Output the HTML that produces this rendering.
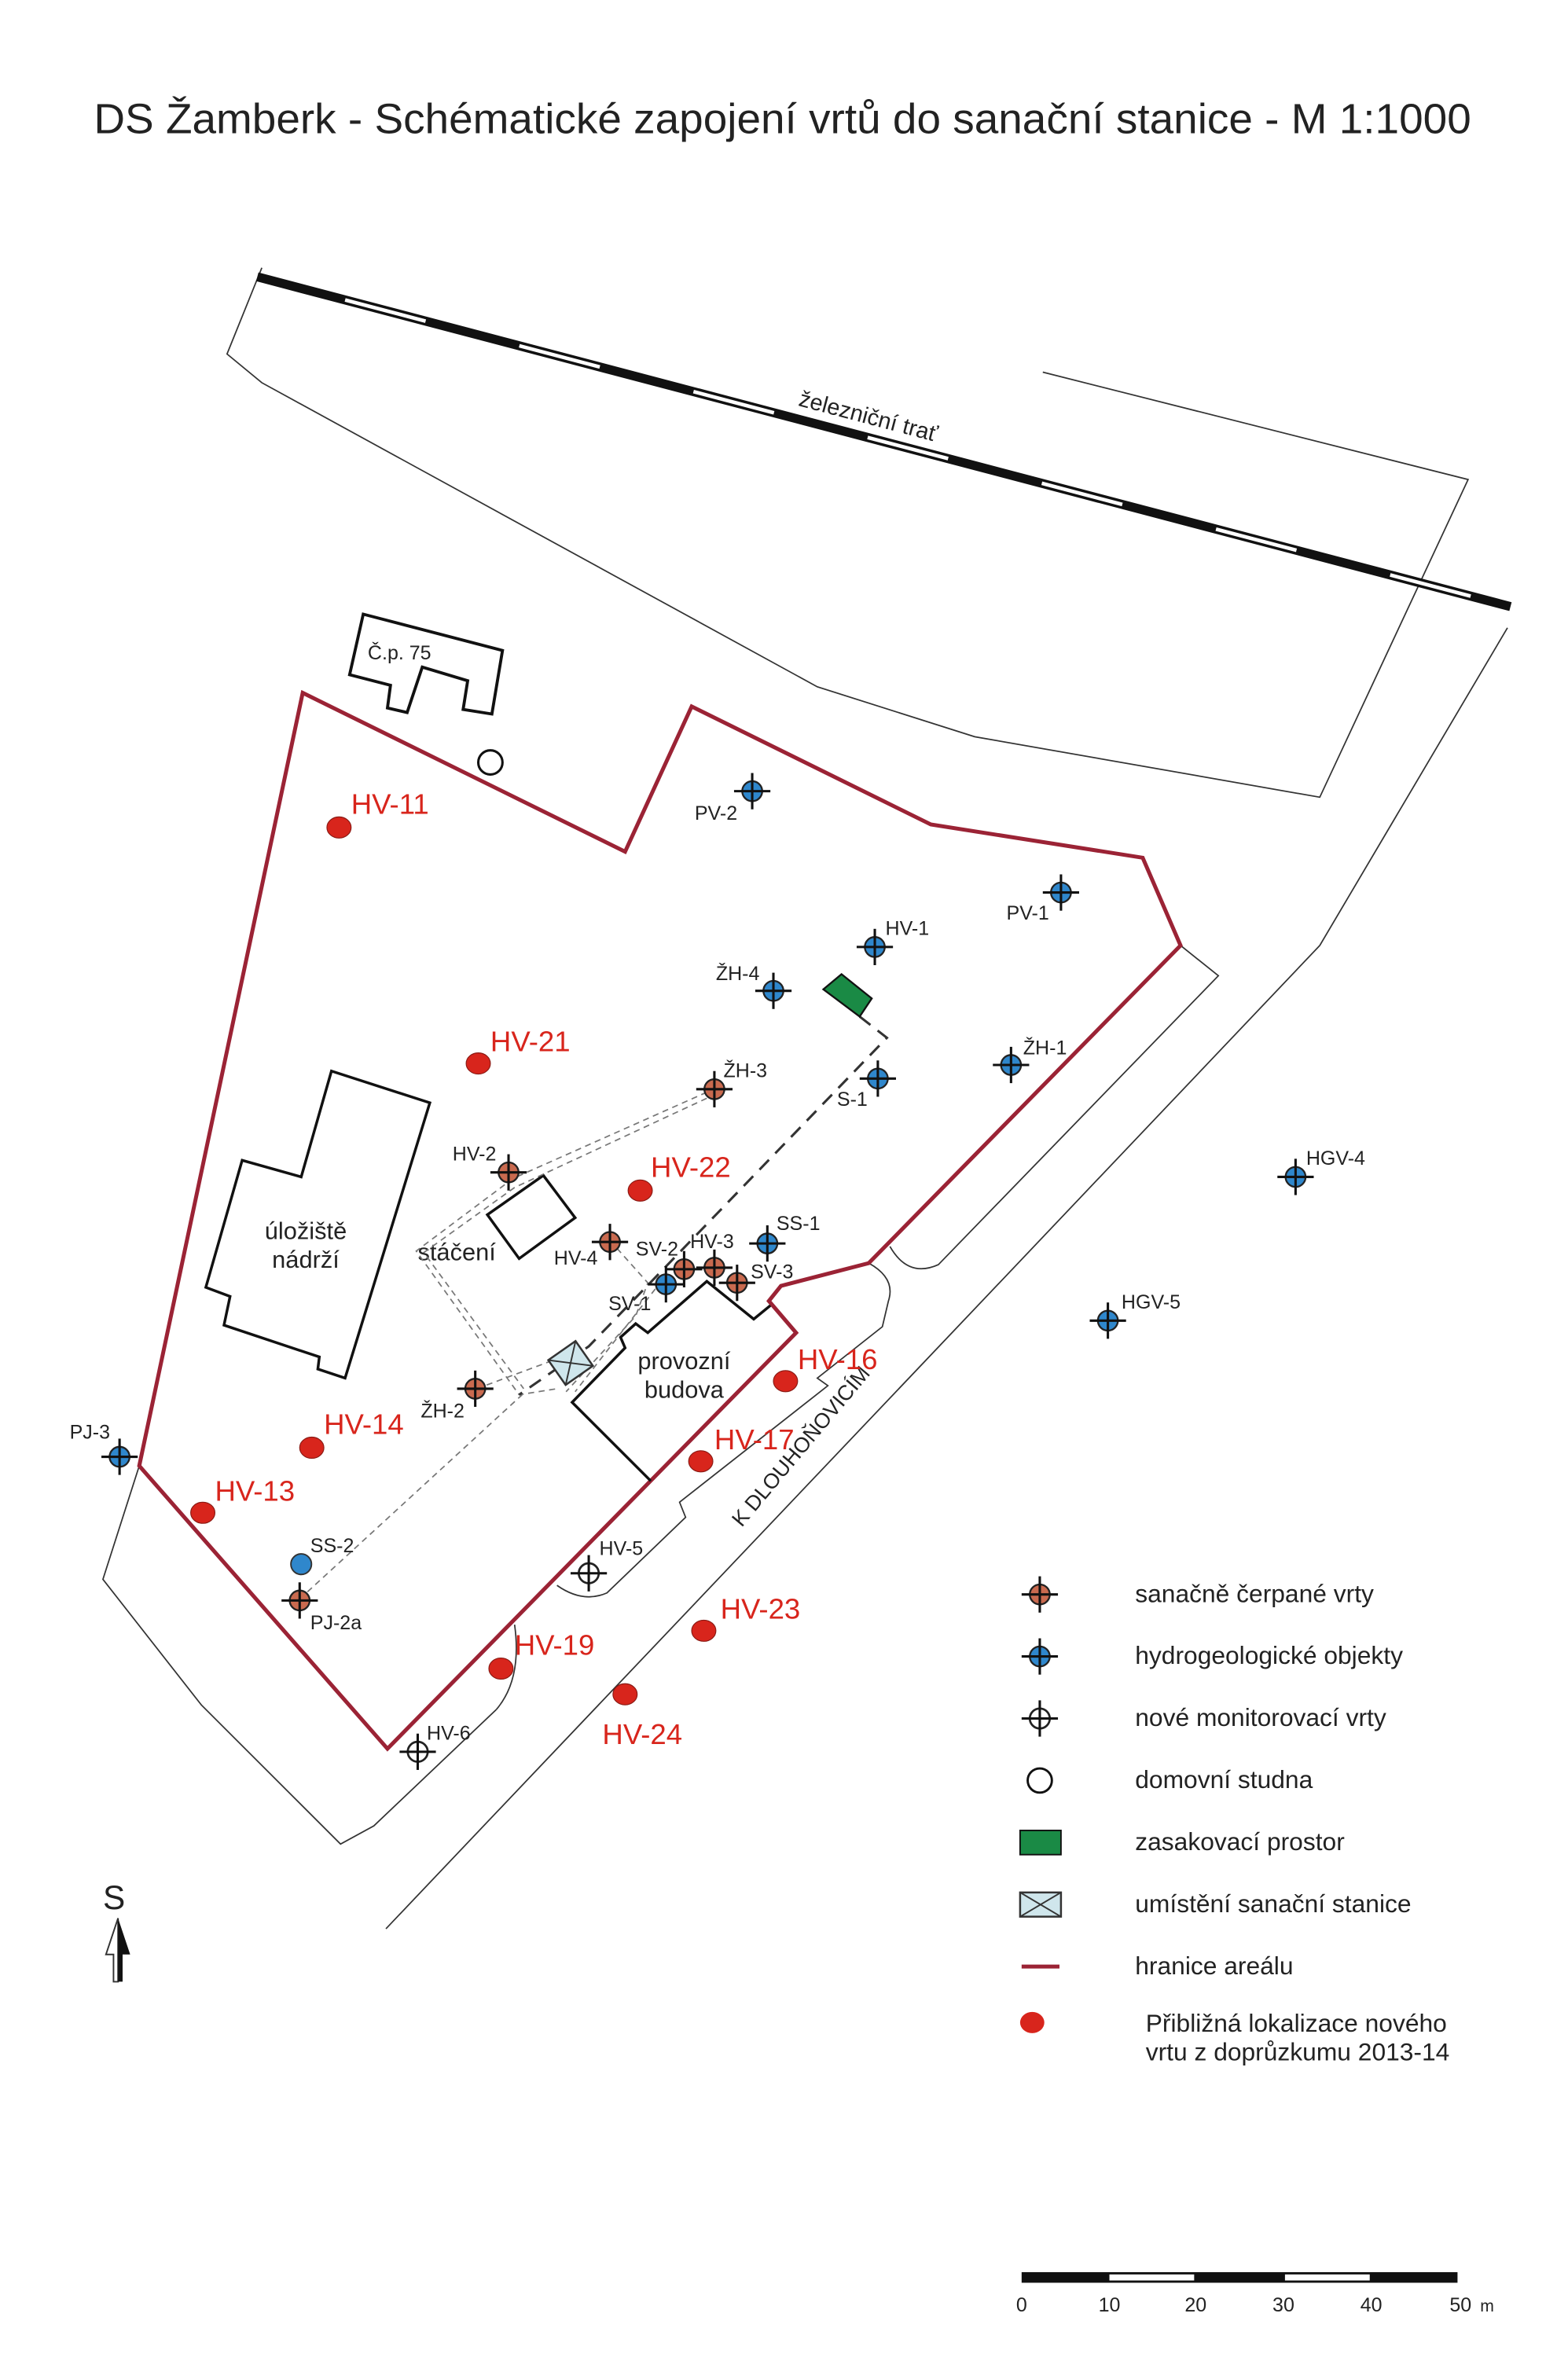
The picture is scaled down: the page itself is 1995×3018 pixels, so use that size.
<!DOCTYPE html>
<html><head><meta charset="utf-8"><style>
html,body{margin:0;padding:0;background:#fff;}
svg{display:block;}
text{font-family:"Liberation Sans",sans-serif;}
</style></head><body>
<svg width="1995" height="3018" viewBox="0 0 1036 1568" preserveAspectRatio="none" xmlns="http://www.w3.org/2000/svg">
<defs>
<g id="cr"><circle r="6.6" fill="#c96a4f" stroke="#222" stroke-width="1.2"/><line x1="-12" y1="0" x2="12" y2="0" stroke="#111" stroke-width="1.6"/><line x1="0" y1="-12" x2="0" y2="12" stroke="#111" stroke-width="1.6"/></g>
<g id="cb"><circle r="6.6" fill="#2f87cc" stroke="#222" stroke-width="1.2"/><line x1="-12" y1="0" x2="12" y2="0" stroke="#111" stroke-width="1.6"/><line x1="0" y1="-12" x2="0" y2="12" stroke="#111" stroke-width="1.6"/></g>
<g id="ck"><circle r="6.6" fill="#fff" stroke="#222" stroke-width="1.4"/><line x1="-12" y1="0" x2="12" y2="0" stroke="#111" stroke-width="1.6"/><line x1="0" y1="-12" x2="0" y2="12" stroke="#111" stroke-width="1.6"/></g>
</defs>
<rect width="1036" height="1568" fill="#fff"/>
<text x="62" y="88" font-size="28" textLength="910" lengthAdjust="spacingAndGlyphs" fill="#222">DS Žamberk - Schématické zapojení vrtů do sanační stanice - M 1:1000</text>

<!-- railway area outlines -->
<g fill="none" stroke="#333" stroke-width="0.9">
<polyline points="173,177 150,234 173,253 540,454 644,487 872,527 970,317 689,246"/>
<polyline points="996,415 872,625 255,1275"/>
<path d="M780,625 L805,645 L620,836 Q600,845 588,824"/>
<path d="M574,835 Q592,845 587,860 L583,877 L540,911 L547,916 L449,993 L453,1003 L401,1053 Q385,1060 368,1048"/>
<polyline points="92,969 68,1044 133,1127 225,1219 247,1207 328,1130"/>
<path d="M328,1130 Q345,1110 340,1074"/>
</g>
<!-- railway -->
<line x1="170" y1="183" x2="998" y2="401" stroke="#111" stroke-width="6"/>
<line x1="170" y1="183" x2="998" y2="401" stroke="#fff" stroke-width="2.4" stroke-dasharray="0 60 55 4" />
<text transform="translate(527,268) rotate(14.8)" font-size="15" fill="#222">železniční trať</text>

<!-- Č.p. 75 -->
<polygon points="240,406 332,430 325,472 306,469 309,450 279,441 269,471 256,468 258,453 231,446" fill="none" stroke="#111" stroke-width="2"/>
<text x="243" y="436" font-size="13" fill="#222">Č.p. 75</text>
<circle cx="324" cy="504" r="8" fill="#fff" stroke="#111" stroke-width="1.6"/>

<!-- boundary -->
<polygon points="200,458 413,563 457,467 615,545 755,567 780,625 574,835 516,850 508,860 526,881 256,1156 92,969" fill="none" stroke="#9b2335" stroke-width="2.6"/>

<!-- buildings -->
<polygon points="219,708 284,729 228,911 210,905 211,897 148,876 152,857 136,851 160,767 199,778" fill="none" stroke="#111" stroke-width="1.8"/>
<text x="202" y="819" font-size="16" text-anchor="middle" fill="#222">úložiště</text>
<text x="202" y="838" font-size="16" text-anchor="middle" fill="#222">nádrží</text>
<polygon points="322,803 359,777 380,805 343,832" fill="none" stroke="#111" stroke-width="1.8"/>
<text x="276" y="833" font-size="16" fill="#222">stáčení</text>
<polyline points="430,979 378,927 413,891 410,884 420,875 428,881 467,847 498,872 509,863" fill="none" stroke="#111" stroke-width="1.8"/>
<text x="452" y="905" font-size="16" text-anchor="middle" fill="#222">provozní</text>
<text x="452" y="924" font-size="16" text-anchor="middle" fill="#222">budova</text>
<text transform="translate(490,1010) rotate(-50)" font-size="14" fill="#222">K DLOUHOŇOVICÍM</text>

<!-- dashed lines -->
<g fill="none" stroke="#777" stroke-width="0.9" stroke-dasharray="4 3">
<polyline points="467,722 339,779 275,827 343,922 368,918"/>
<polyline points="467,726 340,785 280,828 346,918"/>
<polyline points="198,1057 345,922"/>
<polyline points="315,918 366,899"/>
<polyline points="403,820 428,848 420,870 374,920"/>
<polyline points="433,852 380,920"/>
</g>
<polyline points="568,672 586,686 389,890 343,922" fill="none" stroke="#333" stroke-width="1.6" stroke-dasharray="9 6"/>
<!-- green -->
<polygon points="544,654 556,644 576,660 568,672" fill="#1a8a45" stroke="#111" stroke-width="1.2"/>
<!-- station -->
<g transform="translate(377,901) rotate(-35)"><rect x="-11" y="-10" width="22" height="20" fill="#cfe6ec" stroke="#333" stroke-width="1.3"/><line x1="-11" y1="-10" x2="11" y2="10" stroke="#333"/><line x1="-11" y1="10" x2="11" y2="-10" stroke="#333"/></g>

<!-- symbols -->
<use href="#cr" x="472" y="720"/><use href="#cr" x="336" y="775"/><use href="#cr" x="403" y="821"/>
<use href="#cr" x="452" y="839"/><use href="#cr" x="472" y="838"/><use href="#cr" x="487" y="848"/>
<use href="#cr" x="314" y="918"/><use href="#cr" x="198" y="1058"/>
<use href="#cb" x="497" y="523"/><use href="#cb" x="578" y="626"/><use href="#cb" x="511" y="655"/>
<use href="#cb" x="701" y="590"/><use href="#cb" x="668" y="704"/><use href="#cb" x="580" y="713"/>
<use href="#cb" x="507" y="822"/><use href="#cb" x="440" y="849"/><use href="#cb" x="856" y="778"/>
<use href="#cb" x="732" y="873"/><use href="#cb" x="79" y="963"/>
<use href="#ck" x="389" y="1040"/><use href="#ck" x="276" y="1158"/>
<circle cx="199" cy="1034" r="6.8" fill="#2f87cc" stroke="#333" stroke-width="1"/>

<g font-size="13" fill="#222">
<text x="459" y="542">PV-2</text><text x="585" y="618">HV-1</text><text x="473" y="648">ŽH-4</text>
<text x="665" y="608">PV-1</text><text x="676" y="697">ŽH-1</text><text x="478" y="712">ŽH-3</text>
<text x="553" y="731">S-1</text><text x="299" y="767">HV-2</text><text x="366" y="836">HV-4</text>
<text x="420" y="830">SV-2</text><text x="456" y="825">HV-3</text><text x="513" y="813">SS-1</text>
<text x="496" y="845">SV-3</text><text x="402" y="866">SV-1</text><text x="278" y="937">ŽH-2</text>
<text x="46" y="951">PJ-3</text><text x="205" y="1026">SS-2</text><text x="205" y="1077">PJ-2a</text>
<text x="396" y="1028">HV-5</text><text x="282" y="1150">HV-6</text><text x="863" y="770">HGV-4</text>
<text x="741" y="865">HGV-5</text>
</g>

<!-- red dots -->
<g fill="#d8251c" stroke="#8a1a14" stroke-width="0.6">
<ellipse cx="224" cy="547" rx="8" ry="7"/><ellipse cx="316" cy="703" rx="8" ry="7"/><ellipse cx="423" cy="787" rx="8" ry="7"/>
<ellipse cx="519" cy="913" rx="8" ry="7"/><ellipse cx="463" cy="966" rx="8" ry="7"/><ellipse cx="206" cy="957" rx="8" ry="7"/>
<ellipse cx="134" cy="1000" rx="8" ry="7"/><ellipse cx="331" cy="1103" rx="8" ry="7"/><ellipse cx="465" cy="1078" rx="8" ry="7"/>
<ellipse cx="413" cy="1120" rx="8" ry="7"/>
</g>
<g font-size="19" fill="#d8251c">
<text x="232" y="538">HV-11</text><text x="324" y="695">HV-21</text><text x="430" y="778">HV-22</text>
<text x="527" y="905">HV-16</text><text x="472" y="958">HV-17</text><text x="214" y="948">HV-14</text>
<text x="142" y="992">HV-13</text><text x="340" y="1094">HV-19</text><text x="476" y="1070">HV-23</text>
<text x="398" y="1153">HV-24</text>
</g>

<!-- legend -->
<use href="#cr" x="687" y="1054"/><use href="#cb" x="687" y="1095"/><use href="#ck" x="687" y="1136"/>
<circle cx="687" cy="1177" r="8" fill="#fff" stroke="#111" stroke-width="1.5"/>
<rect x="674" y="1210" width="27" height="16" fill="#1a8a45" stroke="#111"/>
<g><rect x="674" y="1251" width="27" height="16" fill="#cfe6ec" stroke="#333" stroke-width="1.3"/><line x1="674" y1="1251" x2="701" y2="1267" stroke="#333"/><line x1="674" y1="1267" x2="701" y2="1251" stroke="#333"/></g>
<line x1="675" y1="1300" x2="700" y2="1300" stroke="#9b2335" stroke-width="2.6"/>
<ellipse cx="682" cy="1337" rx="8" ry="7" fill="#d8251c"/>
<g font-size="16.5" fill="#222">
<text x="750" y="1059">sanačně čerpané vrty</text>
<text x="750" y="1100">hydrogeologické objekty</text>
<text x="750" y="1141">nové monitorovací vrty</text>
<text x="750" y="1182">domovní studna</text>
<text x="750" y="1223">zasakovací prostor</text>
<text x="750" y="1264">umístění sanační stanice</text>
<text x="750" y="1305">hranice areálu</text>
<text x="757" y="1343">Přibližná lokalizace nového</text>
<text x="757" y="1362">vrtu z doprůzkumu 2013-14</text>
</g>

<!-- scale -->
<rect x="675" y="1502" width="288" height="7" fill="#111"/>
<rect x="733" y="1503.5" width="56" height="4" fill="#fff"/>
<rect x="849" y="1503.5" width="56" height="4" fill="#fff"/>
<g font-size="13" fill="#222" text-anchor="middle">
<text x="675" y="1528">0</text><text x="733" y="1528">10</text><text x="790" y="1528">20</text>
<text x="848" y="1528">30</text><text x="906" y="1528">40</text><text x="965" y="1528">50</text>
</g>
<text x="978" y="1528" font-size="11" fill="#222">m</text>

<!-- north -->
<text x="68" y="1262" font-size="22" fill="#222">S</text>
<polygon points="78,1268 70,1292 75,1292 75,1310 78,1310" fill="#fff" stroke="#333" stroke-width="1"/>
<polygon points="78,1268 86,1292 81,1292 81,1310 78,1310" fill="#111"/>
</svg>
</body></html>
